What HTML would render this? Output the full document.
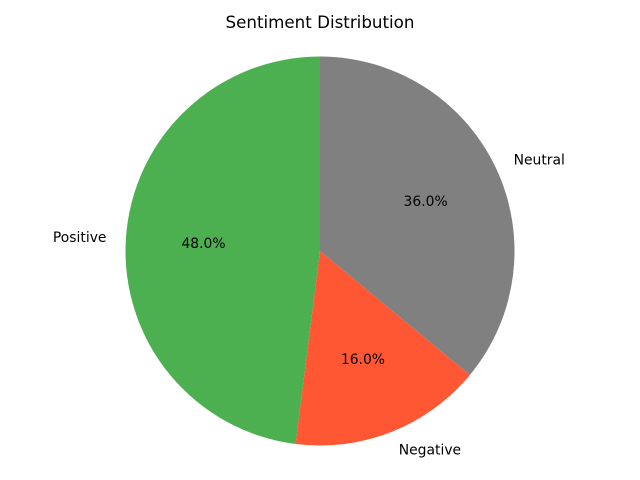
<!DOCTYPE html>
<html><head><meta charset="utf-8"><style>
html,body{margin:0;padding:0;background:#fff;}
svg{display:block;font-family:"DejaVu Sans","Liberation Sans",sans-serif;}
</style></head>
<body>
<svg id="chart" width="640" height="480" viewBox="0 0 640 480">
<text x="320" y="28" text-anchor="middle" font-size="16.7" fill="#000">Sentiment Distribution</text>
<g id="slices"></g>
</svg>
<script>
const labels = ["Positive", "Negative", "Neutral"];
const values = [48, 16, 36];
const colors = ["#4CAF50", "#FF5733", "#808080"];
const cx = 320, cy = 251, r = 194.5, startAngle = 90;
const ns = "http://www.w3.org/2000/svg";
const g = document.getElementById("slices");
const total = values.reduce((a, b) => a + b, 0);
function pt(deg, rad) {
  const t = deg * Math.PI / 180;
  return [cx + rad * Math.cos(t), cy - rad * Math.sin(t)];
}
let a = startAngle;
values.forEach((v, i) => {
  const sweep = v / total * 360;
  const a2 = a + sweep;
  const p1 = pt(a, r), p2 = pt(a2, r);
  const large = sweep > 180 ? 1 : 0;
  const path = document.createElementNS(ns, "path");
  path.setAttribute("d", `M${cx},${cy} L${p1[0]},${p1[1]} A${r},${r} 0 ${large} 0 ${p2[0]},${p2[1]} Z`);
  path.setAttribute("fill", colors[i]);
  
  
  g.appendChild(path);
  const mid = a + sweep / 2;
  const lp = pt(mid, r * 1.1);
  const c = Math.cos(mid * Math.PI / 180);
  const lab = document.createElementNS(ns, "text");
  lab.setAttribute("x", lp[0]);
  lab.setAttribute("y", lp[1] + 4.5);
  lab.setAttribute("font-size", "13.9");
  lab.setAttribute("text-anchor", c < 0 ? "end" : "start");
  lab.textContent = labels[i];
  
  
  g.appendChild(lab);
  const pp = pt(mid, r * 0.6);
  const pc = document.createElementNS(ns, "text");
  pc.setAttribute("x", pp[0]);
  pc.setAttribute("y", pp[1] + 4.5);
  pc.setAttribute("font-size", "13.9");
  pc.setAttribute("text-anchor", "middle");
  pc.textContent = (v / total * 100).toFixed(1) + "%";
  
  
  g.appendChild(pc);
  a = a2;
});
</script>
</body></html>
